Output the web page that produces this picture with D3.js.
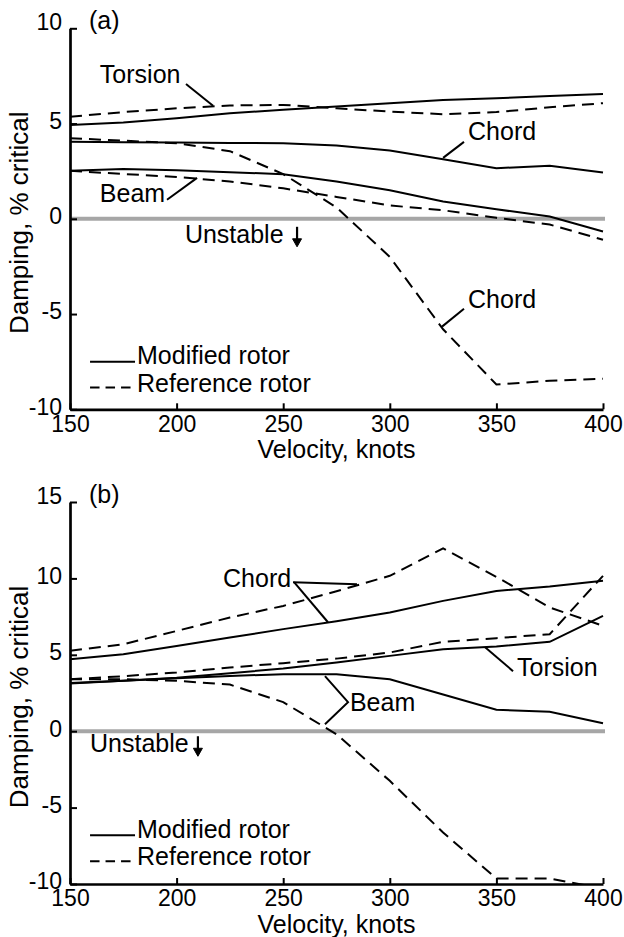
<!DOCTYPE html>
<html><head><meta charset="utf-8">
<script src="https://cdn.jsdelivr.net/npm/d3@7"></script>
<style>
body{margin:0;background:#fff;}
svg{display:block;font-family:"Liberation Sans",Arial,Helvetica,sans-serif;}
</style></head><body>
<svg id="chart" width="624" height="937"></svg>
<script>
// ---------- data ----------
const velocity = [150,175,200,225,250,275,300,325,350,375,400];
const xTicks = [150,200,250,300,350,400];

// Panel (a)
const aTorsionMod = [4.93,5.05,5.28,5.54,5.72,5.9,6.07,6.24,6.33,6.45,6.55];
const aTorsionRef = [5.36,5.6,5.8,5.95,5.98,5.8,5.63,5.49,5.6,5.85,6.07];
const aChordMod   = [4.05,4.02,4.0,3.98,3.97,3.85,3.58,3.13,2.66,2.78,2.43];
const aChordRef   = [4.23,4.1,3.97,3.55,2.35,0.6,-2.0,-5.8,-8.7,-8.5,-8.4];
const aBeamMod    = [2.52,2.62,2.55,2.45,2.34,1.96,1.5,0.91,0.5,0.12,-0.67];
const aBeamRef    = [2.52,2.35,2.2,1.96,1.6,1.15,0.7,0.45,0.05,-0.3,-1.1];
const aYTicks = [-10,-5,0,5,10];

// Panel (b)
const bChordMod   = [4.71,5.04,5.58,6.13,6.68,7.2,7.77,8.53,9.18,9.47,9.84];
const bChordRef   = [5.26,5.69,6.56,7.44,8.2,9.16,10.17,11.96,10.1,8.1,6.9];
const bTorsionMod = [3.15,3.3,3.5,3.8,4.1,4.5,4.93,5.37,5.54,5.85,7.55];
const bTorsionRef = [3.4,3.6,3.84,4.17,4.45,4.75,5.15,5.85,6.09,6.35,10.17];
const bBeamMod    = [3.12,3.3,3.47,3.62,3.73,3.73,3.4,2.4,1.4,1.27,0.52];
const bBeamRef    = [3.4,3.4,3.3,3.05,1.9,-0.2,-3.25,-6.63,-9.64,-9.64,-10.3];
const bYTicks = [-10,-5,0,5,10,15];

const legendLabels = ["Modified rotor","Reference rotor"];
const xTitle = "Velocity, knots";
const yTitle = "Damping, % critical";

// annotations in data coordinates (knots, % critical)
const aNotes = [
  {text:"Torsion", at:[164,7.13], leader:[[204.4,7.08],[217.1,5.93]]},
  {text:"Chord",   at:[336.7,4.14], leader:[[334.8,4.04],[325,3.2]]},
  {text:"Beam",    at:[164,0.89], leader:[[195.5,1.0],[209.6,2.15]]},
  {text:"Chord",   at:[336.7,-4.67], leader:[[334.8,-4.72],[324.5,-5.66]]}
];
const bNotes = [
  {text:"Chord",   at:[221.8,9.42], leader:[[254.6,9.75],[284.6,9.62]]},
  {text:"",        at:[0,0],        leader:[[255.1,9.75],[271.0,7.13]]},
  {text:"Torsion", at:[359.7,3.6],  leader:[[357.8,3.93],[344.7,5.5]]},
  {text:"Beam",    at:[281.3,1.31], leader:[[269.6,3.6],[280.4,1.9],[269.6,0.46]]}
];

const svg = d3.select("#chart");
const FS = 25;     // label text
const TFS = 23;    // tick labels

function drawPanel(cfg) {
  const x = d3.scaleLinear().domain([150,400]).range([70,603]);
  const y = d3.scaleLinear().domain(cfg.yDomain).range([cfg.bottom, cfg.top]);
  const g = svg.append("g");
  const clipId = "clip" + cfg.id;
  g.append("clipPath").attr("id", clipId).append("rect")
    .attr("x", x(150)).attr("y", y(cfg.yDomain[1]) - 5)
    .attr("width", x(400) - x(150) + 4).attr("height", y(cfg.yDomain[0]) - y(cfg.yDomain[1]) + 5);

  // zero line
  g.append("line").attr("x1", x(150)).attr("x2", x(400) + 2)
    .attr("y1", y(0)).attr("y2", y(0))
    .attr("stroke", "#a6a6a6").attr("stroke-width", 4);

  const line = d3.line().x((d,i) => x(velocity[i])).y(d => y(d));
  cfg.series.forEach(s => {
    g.append("path").attr("d", line(s.values))
      .attr("fill","none").attr("stroke","#000").attr("stroke-width",2)
      .attr("stroke-dasharray", s.dashed ? "12,7" : null)
      .attr("clip-path", `url(#${clipId})`);
  });

  // axes
  const yAxis = d3.axisLeft(y).tickValues(cfg.yTicks).tickSize(-7).tickSizeOuter(0)
    .tickPadding(8).tickFormat(d => String(d));
  const ya = g.append("g").attr("transform", `translate(${x(150)},0)`).call(yAxis);
  ya.attr("font-family", null);
  ya.select(".domain").attr("stroke-width", 2.7);
  ya.selectAll(".tick line").attr("stroke-width", 2);
  ya.selectAll(".tick text").attr("font-size", TFS).attr("fill","#000")
    .attr("dy", d => d === cfg.yDomain[1] ? "0.06em" : "0.21em");

  const xAxis = d3.axisBottom(x).tickValues(xTicks).tickSize(-6).tickSizeOuter(0)
    .tickPadding(6).tickFormat(d => String(d));
  const xa = g.append("g").attr("transform", `translate(0,${y(cfg.yDomain[0])})`).call(xAxis);
  xa.attr("font-family", null);
  xa.select(".domain").attr("stroke-width", 2.7);
  xa.selectAll(".tick line").attr("stroke-width", 2);
  xa.selectAll(".tick text").attr("font-size", TFS).attr("fill","#000");

  // titles
  g.append("text").attr("x", (x(150)+x(400))/2).attr("y", y(cfg.yDomain[0]) + 49)
    .attr("text-anchor","middle").attr("font-size", FS).text(xTitle);
  g.append("text")
    .attr("transform", `translate(28,${(y(cfg.yDomain[0]) + y(cfg.yDomain[1]))/2 + 4}) rotate(-90)`)
    .attr("text-anchor","middle").attr("font-size", 26).text(yTitle);

  // panel tag
  g.append("text").attr("x", x(cfg.tag.at[0])).attr("y", y(cfg.tag.at[1]))
    .attr("font-size", FS).text(cfg.tag.text);

  // annotations
  cfg.notes.forEach(n => {
    if (n.text) g.append("text").attr("x", x(n.at[0])).attr("y", y(n.at[1]))
      .attr("font-size", FS).text(n.text);
    g.append("path").attr("d", d3.line().x(p => x(p[0])).y(p => y(p[1]))(n.leader))
      .attr("fill","none").attr("stroke","#000").attr("stroke-width",2);
  });

  // Unstable arrow
  const u = cfg.unstable;
  g.append("text").attr("x", x(u.at[0])).attr("y", y(u.at[1])).attr("font-size", FS).text("Unstable");
  const ax = x(u.arrow[0]), ay1 = y(u.arrow[1]), ay2 = y(u.arrow[2]);
  g.append("line").attr("x1", ax).attr("x2", ax).attr("y1", ay1).attr("y2", ay2 - 2)
    .attr("stroke","#000").attr("stroke-width",2.2);
  g.append("path").attr("d", `M${ax-4.5},${ay2-8}L${ax},${ay2}L${ax+4.5},${ay2-8}Z`)
    .attr("fill","#000").attr("stroke","#000").attr("stroke-width",1);

  // legend
  const L = cfg.legend;
  [false, true].forEach((dashed, i) => {
    const ly = y(L.y[i]);
    g.append("line").attr("x1", x(L.x[0])).attr("x2", x(L.x[1]))
      .attr("y1", ly).attr("y2", ly).attr("stroke","#000").attr("stroke-width",2)
      .attr("stroke-dasharray", dashed ? "9.5,6" : null);
    g.append("text").attr("x", x(L.x[1]) + 2).attr("y", ly + (dashed ? 4 : 2.5))
      .attr("font-size", FS).text(legendLabels[i]);
  });
}

drawPanel({
  id:"a", yDomain:[-10,10], top:28.3, bottom:409.3, yTicks:aYTicks,
  series:[
    {values:aTorsionMod},{values:aTorsionRef,dashed:true},
    {values:aChordMod},{values:aChordRef,dashed:true},
    {values:aBeamMod},{values:aBeamRef,dashed:true}
  ],
  notes:aNotes,
  tag:{text:"(a)", at:[158.9,9.96]},
  unstable:{at:[203.9,-1.26], arrow:[256.5,-0.42,-1.47]},
  legend:{x:[159.4,180.5], y:[-7.5,-8.86]}
});

drawPanel({
  id:"b", yDomain:[-10,15], top:502, bottom:884, yTicks:bYTicks,
  series:[
    {values:bChordMod},{values:bChordRef,dashed:true},
    {values:bTorsionMod},{values:bTorsionRef,dashed:true},
    {values:bBeamMod},{values:bBeamRef,dashed:true}
  ],
  notes:bNotes,
  tag:{text:"(b)", at:[158.9,14.93]},
  unstable:{at:[159.4,-1.37], arrow:[210,-0.33,-1.64]},
  legend:{x:[159.4,180.5], y:[-6.81,-8.51]}
});
</script>
</body></html>
